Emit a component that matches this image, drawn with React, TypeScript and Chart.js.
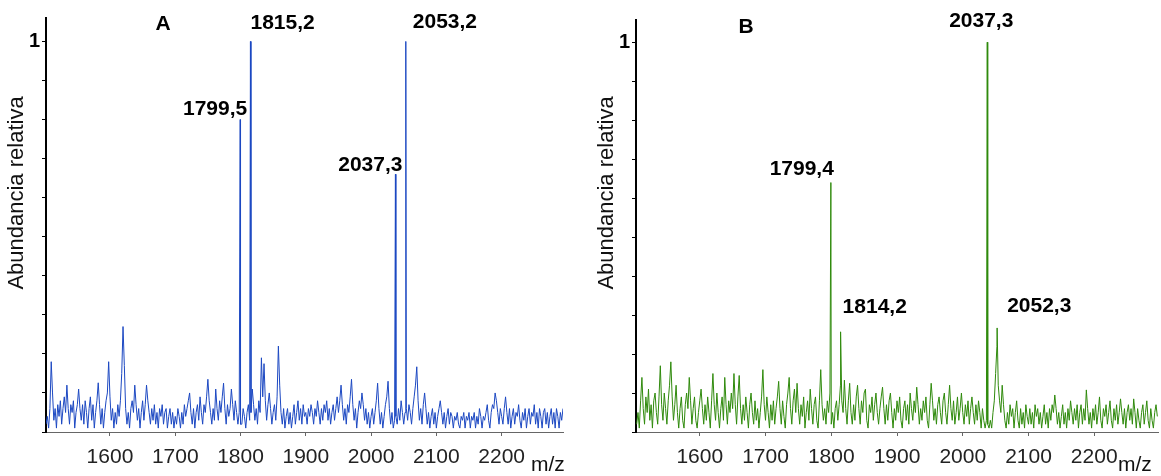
import React, { useEffect, useRef } from "react";
import { Chart, registerables } from "chart.js";

Chart.register(...registerables);

// ---------- DATA ----------
// Panel A: spectrum sampled every 2 m/z starting at 1502
const mzStartA = 1502;
const mzStepA = 2;
const noiseA = [
  // 1502 - 1600
  0.02, 0.04, 0.01, 0.06, 0.18, 0.10, 0.03, 0.06, 0.01, 0.07, 0.04, 0.08, 0.02, 0.06, 0.09, 0.05, 0.12, 0.06, 0.02, 0.07, 0.05, 0.08, 0.01, 0.05, 0.07,
  0.11, 0.06, 0.03, 0.07, 0.02, 0.08, 0.05, 0.01, 0.06, 0.09, 0.03, 0.07, 0.01, 0.05, 0.08, 0.126, 0.07, 0.02, 0.06, 0.01, 0.05, 0.08, 0.10, 0.18, 0.09,
  // 1602 - 1700
  0.03, 0.06, 0.01, 0.05, 0.02, 0.07, 0.04, 0.08, 0.15, 0.27, 0.17, 0.06, 0.02, 0.05, 0.01, 0.06, 0.08, 0.05, 0.12, 0.07, 0.03, 0.06, 0.01, 0.05, 0.08,
  0.03, 0.07, 0.12, 0.08, 0.05, 0.02, 0.06, 0.03, 0.07, 0.02, 0.05, 0.01, 0.06, 0.04, 0.07, 0.02, 0.05, 0.06, 0.01, 0.04, 0.06, 0.02, 0.05, 0.01, 0.04,
  // 1702 - 1800
  0.02, 0.06, 0.04, 0.01, 0.05, 0.02, 0.07, 0.04, 0.06, 0.08, 0.10, 0.05, 0.02, 0.06, 0.01, 0.05, 0.07, 0.03, 0.09, 0.05, 0.02, 0.07, 0.05, 0.09, 0.135,
  0.08, 0.05, 0.02, 0.06, 0.03, 0.11, 0.06, 0.03, 0.08, 0.05, 0.09, 0.125, 0.06, 0.02, 0.07, 0.04, 0.06, 0.11, 0.07, 0.03, 0.08, 0.05, 0.02, 0.05, 0.02,
  // 1802 - 1900
  0.02, 0.06, 0.04, 0.01, 0.05, 0.07, 0.03, 0.05, 0.11, 0.07, 0.03, 0.06, 0.02, 0.08, 0.05, 0.19, 0.09, 0.175, 0.08, 0.03, 0.07, 0.10, 0.06, 0.02, 0.05,
  0.07, 0.03, 0.09, 0.22, 0.12, 0.05, 0.02, 0.06, 0.01, 0.04, 0.06, 0.02, 0.05, 0.01, 0.04, 0.07, 0.02, 0.05, 0.08, 0.03, 0.06, 0.02, 0.07, 0.04, 0.05,
  // 1902 - 2000
  0.02, 0.06, 0.04, 0.07, 0.05, 0.02, 0.06, 0.04, 0.08, 0.05, 0.02, 0.06, 0.03, 0.07, 0.05, 0.08, 0.03, 0.06, 0.02, 0.05, 0.07, 0.03, 0.06, 0.09, 0.05,
  0.08, 0.12, 0.07, 0.03, 0.06, 0.02, 0.07, 0.05, 0.09, 0.135, 0.07, 0.03, 0.06, 0.01, 0.05, 0.08, 0.06, 0.10, 0.07, 0.03, 0.06, 0.02, 0.05, 0.01, 0.04,
  // 2002 - 2100
  0.06, 0.02, 0.05, 0.08, 0.125, 0.06, 0.02, 0.05, 0.01, 0.04, 0.07, 0.09, 0.13, 0.06, 0.02, 0.05, 0.01, 0.03, 0.04, 0.02, 0.06, 0.03, 0.08, 0.05, 0.02,
  0.05, 0.06, 0.03, 0.07, 0.05, 0.02, 0.06, 0.09, 0.12, 0.167, 0.08, 0.03, 0.06, 0.02, 0.07, 0.10, 0.06, 0.02, 0.05, 0.01, 0.04, 0.06, 0.02, 0.05, 0.01,
  // 2102 - 2200
  0.04, 0.06, 0.08, 0.05, 0.02, 0.05, 0.01, 0.04, 0.06, 0.02, 0.05, 0.04, 0.01, 0.04, 0.03, 0.05, 0.02, 0.01, 0.04, 0.03, 0.05, 0.01, 0.04, 0.03, 0.05,
  0.01, 0.04, 0.03, 0.05, 0.01, 0.04, 0.02, 0.06, 0.04, 0.01, 0.04, 0.03, 0.05, 0.07, 0.03, 0.01, 0.05, 0.07, 0.06, 0.10, 0.08, 0.05, 0.02, 0.06, 0.04,
  // 2202 - 2294
  0.02, 0.06, 0.09, 0.05, 0.02, 0.06, 0.01, 0.04, 0.06, 0.02, 0.05, 0.04, 0.07, 0.03, 0.01, 0.05, 0.03, 0.06, 0.01, 0.04, 0.06, 0.02, 0.05, 0.04, 0.07,
  0.02, 0.05, 0.01, 0.06, 0.04, 0.01, 0.05, 0.06, 0.02, 0.05, 0.01, 0.04, 0.06, 0.02, 0.05, 0.01, 0.06, 0.04, 0.01, 0.05, 0.03, 0.06,
];
const peakMzA = [1799.5, 1815.2, 2037.3, 2053.2];
const peakIntA = [0.8, 1.0, 0.66, 1.0];
const peakLabelA = ["1799,5", "1815,2", "2037,3", "2053,2"];

// Panel B: spectrum sampled every 2 m/z starting at 1504
const mzStartB = 1504;
const mzStepB = 2;
const noiseB = [
  // 1504 - 1600
  0.02, 0.05, 0.01, 0.08, 0.14, 0.06, 0.02, 0.09, 0.05, 0.11, 0.03, 0.07, 0.01, 0.08, 0.10, 0.05, 0.02, 0.09, 0.17, 0.07, 0.03, 0.10, 0.06, 0.02, 0.08,
  0.12, 0.18, 0.09, 0.03, 0.07, 0.12, 0.05, 0.01, 0.06, 0.09, 0.03, 0.01, 0.07, 0.10, 0.06, 0.14, 0.08, 0.02, 0.06, 0.09, 0.03, 0.01, 0.05, 0.08,
  // 1602 - 1700
  0.11, 0.06, 0.02, 0.07, 0.03, 0.09, 0.05, 0.01, 0.08, 0.15, 0.07, 0.03, 0.10, 0.05, 0.01, 0.06, 0.09, 0.03, 0.14, 0.07, 0.02, 0.08, 0.05, 0.10, 0.06,
  0.15, 0.07, 0.02, 0.09, 0.145, 0.06, 0.02, 0.07, 0.03, 0.09, 0.05, 0.01, 0.07, 0.10, 0.05, 0.02, 0.08, 0.03, 0.06, 0.01, 0.05, 0.09, 0.16, 0.07, 0.03,
  // 1702 - 1800
  0.09, 0.05, 0.01, 0.07, 0.03, 0.08, 0.02, 0.06, 0.09, 0.13, 0.06, 0.02, 0.08, 0.04, 0.01, 0.07, 0.10, 0.14, 0.06, 0.02, 0.08, 0.11, 0.05, 0.125, 0.06,
  0.02, 0.07, 0.04, 0.09, 0.01, 0.05, 0.08, 0.03, 0.11, 0.06, 0.02, 0.07, 0.09, 0.03, 0.01, 0.08, 0.16, 0.07, 0.03, 0.06, 0.02, 0.08, 0.05, 0.10, 0.02,
  // 1802 - 1900
  0.05, 0.01, 0.06, 0.08, 0.03, 0.07, 0.12, 0.08, 0.05, 0.133, 0.06, 0.02, 0.08, 0.125, 0.05, 0.02, 0.07, 0.03, 0.09, 0.12, 0.06, 0.02, 0.08, 0.05, 0.10,
  0.11, 0.03, 0.01, 0.07, 0.05, 0.09, 0.03, 0.07, 0.10, 0.05, 0.02, 0.06, 0.09, 0.115, 0.06, 0.02, 0.07, 0.03, 0.08, 0.10, 0.05, 0.01, 0.06, 0.03, 0.08,
  // 1902 - 2000
  0.05, 0.09, 0.03, 0.01, 0.06, 0.08, 0.03, 0.07, 0.02, 0.10, 0.06, 0.03, 0.08, 0.05, 0.115, 0.07, 0.02, 0.06, 0.03, 0.08, 0.05, 0.09, 0.03, 0.01, 0.07,
  0.125, 0.08, 0.03, 0.06, 0.02, 0.07, 0.09, 0.05, 0.02, 0.08, 0.10, 0.05, 0.02, 0.07, 0.12, 0.06, 0.03, 0.08, 0.02, 0.05, 0.09, 0.03, 0.06, 0.10, 0.05,
  // 2002 - 2100
  0.02, 0.07, 0.04, 0.08, 0.02, 0.06, 0.09, 0.05, 0.02, 0.07, 0.03, 0.08, 0.05, 0.01, 0.06, 0.03, 0.01, 0.03, 0.02, 0.01, 0.03, 0.01, 0.05, 0.08, 0.15,
  0.22, 0.12, 0.08, 0.05, 0.12, 0.07, 0.03, 0.01, 0.05, 0.02, 0.07, 0.04, 0.06, 0.01, 0.05, 0.08, 0.03, 0.01, 0.06, 0.02, 0.05, 0.01, 0.07, 0.04, 0.02,
  // 2102 - 2200
  0.06, 0.02, 0.05, 0.01, 0.07, 0.04, 0.06, 0.02, 0.05, 0.01, 0.04, 0.07, 0.02, 0.05, 0.01, 0.06, 0.03, 0.07, 0.05, 0.095, 0.06, 0.02, 0.05, 0.01, 0.04,
  0.07, 0.02, 0.05, 0.01, 0.06, 0.03, 0.08, 0.05, 0.02, 0.06, 0.03, 0.07, 0.01, 0.05, 0.07, 0.02, 0.06, 0.03, 0.108, 0.06, 0.02, 0.05, 0.01, 0.06, 0.03,
  // 2202 - 2296
  0.07, 0.02, 0.05, 0.09, 0.03, 0.01, 0.06, 0.04, 0.07, 0.02, 0.05, 0.08, 0.03, 0.01, 0.06, 0.03, 0.07, 0.02, 0.05, 0.085, 0.05, 0.02, 0.06, 0.01, 0.05,
  0.07, 0.03, 0.06, 0.02, 0.085, 0.05, 0.01, 0.06, 0.03, 0.01, 0.05, 0.07, 0.02, 0.05, 0.08, 0.03, 0.01, 0.06, 0.03, 0.01, 0.05, 0.07, 0.04,
];
const peakMzB = [1799.4, 1814.2, 2037.3, 2052.3];
const peakIntB = [0.64, 0.257, 1.0, 0.267];
const peakLabelB = ["1799,4", "1814,2", "2037,3", "2052,3"];

const xTickValues = [1600, 1700, 1800, 1900, 2000, 2100, 2200];
const yTickValues = [0, 0.1, 0.2, 0.3, 0.4, 0.5, 0.6, 0.7, 0.8, 0.9, 1];
const yLabelledTick = 1;
const yTitle = "Abundancia relativa";
const xUnit = "m/z";

// ---------- LAYOUT / STYLE CONFIG ----------
type LabelPos = { align: CanvasTextAlign; dx: number; dy: number };

const panels = [
  {
    key: "A",
    title: "A",
    left: 0,
    width: 580,
    axisLeft: 46,
    padRight: 17,
    padTop: 18,
    xMin: 1502,
    xMax: 2294,
    yMax: 1.06,
    color: "#1c48c2",
    start: mzStartA,
    step: mzStepA,
    noise: noiseA,
    peakMz: peakMzA,
    peakInt: peakIntA,
    peakLabel: peakLabelA,
    labelPos: [
      { align: "right", dx: 7, dy: -10 },
      { align: "left", dx: 0, dy: -18 },
      { align: "right", dx: 7, dy: -9 },
      { align: "left", dx: 7, dy: -19 },
    ] as LabelPos[],
    titleX: 163,
    titleY: 24,
    yTitleX: 17,
    unitX: 531,
  },
  {
    key: "B",
    title: "B",
    left: 580,
    width: 581,
    axisLeft: 56,
    padRight: 3,
    padTop: 20,
    xMin: 1503,
    xMax: 2297,
    yMax: 1.057,
    color: "#2f8a0c",
    start: mzStartB,
    step: mzStepB,
    noise: noiseB,
    peakMz: peakMzB,
    peakInt: peakIntB,
    peakLabel: peakLabelB,
    labelPos: [
      { align: "right", dx: 3, dy: -13 },
      { align: "left", dx: 2, dy: -25 },
      { align: "center", dx: -6, dy: -21 },
      { align: "left", dx: 10, dy: -22 },
    ] as LabelPos[],
    titleX: 166,
    titleY: 27,
    yTitleX: 27,
    unitX: 538,
  },
];

const FONT = "'Liberation Sans', Arial, sans-serif";

function buildPoints(p: (typeof panels)[number]) {
  const pts: { x: number; y: number }[] = p.noise.map((v, i) => ({
    x: p.start + i * p.step,
    y: v,
  }));
  p.peakMz.forEach((mz, i) => pts.push({ x: mz, y: p.peakInt[i] }));
  pts.sort((a, b) => a.x - b.x);
  return pts;
}

function SpectrumPanel({ p }: { p: (typeof panels)[number] }) {
  const ref = useRef<HTMLCanvasElement | null>(null);
  useEffect(() => {
    if (!ref.current) return;
    const overlay = {
      id: "overlay" + p.key,
      afterDraw(chart: any) {
        const ctx = chart.ctx as CanvasRenderingContext2D;
        const xs = chart.scales.x;
        const ys = chart.scales.y;
        ctx.save();
        ctx.fillStyle = "#000";
        ctx.font = `bold 21px ${FONT}`;
        ctx.textBaseline = "middle";
        p.peakMz.forEach((mz, i) => {
          const lp = p.labelPos[i];
          ctx.textAlign = lp.align;
          ctx.fillText(
            p.peakLabel[i],
            xs.getPixelForValue(mz) + lp.dx,
            ys.getPixelForValue(p.peakInt[i]) + lp.dy
          );
        });
        ctx.textAlign = "center";
        ctx.fillText(p.title, p.titleX, p.titleY);
        ctx.textAlign = "left";
        ctx.font = `21px ${FONT}`;
        ctx.fillStyle = "#111";
        ctx.fillText(xUnit, p.unitX, 465);
        ctx.save();
        ctx.translate(p.yTitleX, 193);
        ctx.rotate(-Math.PI / 2);
        ctx.textAlign = "center";
        ctx.font = `22px ${FONT}`;
        ctx.fillText(yTitle, 0, 0);
        ctx.restore();
        ctx.restore();
      },
    };
    const chart = new Chart(ref.current, {
      type: "line",
      data: {
        datasets: [
          {
            data: buildPoints(p),
            borderColor: p.color,
            borderWidth: 1,
            pointRadius: 0,
            tension: 0,
            fill: false,
          },
        ],
      },
      options: {
        animation: false,
        responsive: false,
        parsing: false,
        layout: { padding: { top: p.padTop, right: p.padRight, left: 0, bottom: 0 } },
        plugins: { legend: { display: false }, tooltip: { enabled: false } },
        scales: {
          x: {
            type: "linear",
            min: p.xMin,
            max: p.xMax,
            ticks: {
              color: "#222",
              font: { family: FONT, size: 21 },
              padding: 9,
              maxRotation: 0,
              autoSkip: false,
              callback: (v: any) => String(v),
            },
            afterBuildTicks: (s: any) => {
              s.ticks = xTickValues.map((v) => ({ value: v }));
            },
            afterFit: (s: any) => {
              s.height = 44;
            },
            grid: { drawOnChartArea: false, tickLength: 4, tickColor: "#666" },
            border: { color: "#666", width: 1 },
          },
          y: {
            type: "linear",
            min: 0,
            max: p.yMax,
            ticks: {
              color: "#000",
              font: { family: FONT, size: 20, weight: "bold" },
              padding: 2,
              autoSkip: false,
              callback: (v: any) => (Math.abs(v - yLabelledTick) < 1e-6 ? String(yLabelledTick) : ""),
            },
            afterBuildTicks: (s: any) => {
              s.ticks = yTickValues.map((v) => ({ value: v }));
            },
            afterFit: (s: any) => {
              s.width = p.axisLeft;
            },
            grid: { drawOnChartArea: false, tickLength: 4, tickColor: "#000" },
            border: { color: "#000", width: 2 },
          },
        },
      },
      plugins: [overlay],
    } as any);
    return () => chart.destroy();
  }, [p]);
  return (
    <canvas
      ref={ref}
      width={p.width}
      height={476}
      style={{ position: "absolute", left: p.left, top: 0, width: p.width, height: 476 }}
    />
  );
}

export default function App() {
  useEffect(() => {
    document.body.style.margin = "0";
  }, []);
  return (
    <div style={{ position: "relative", width: 1161, height: 476, background: "#fff" }}>
      {panels.map((p) => (
        <SpectrumPanel key={p.key} p={p} />
      ))}
    </div>
  );
}
